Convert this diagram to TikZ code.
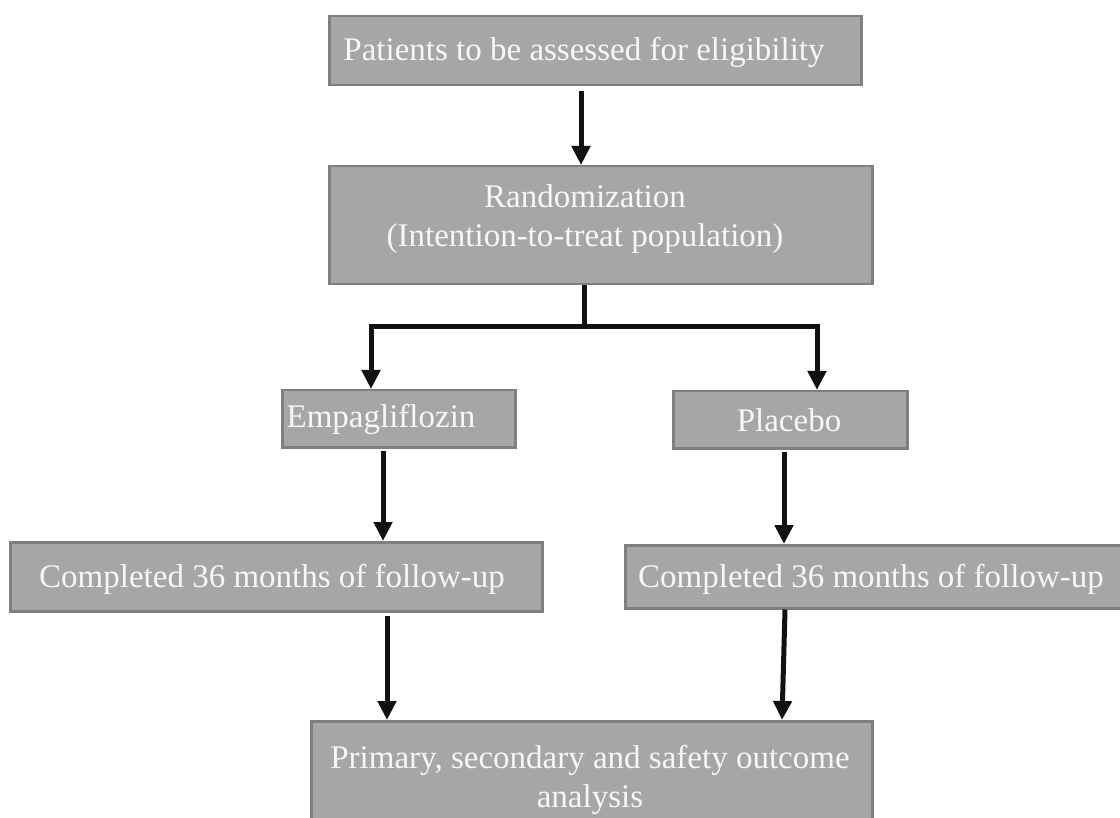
\documentclass[tikz,border=0pt]{standalone}
\usepackage{fontspec}
\setmainfont{Liberation Serif}
\usetikzlibrary{arrows.meta}
\definecolor{boxfill}{HTML}{A6A6A6}
\definecolor{boxline}{HTML}{7F7F7F}
\definecolor{txtcol}{HTML}{F7F7F7}
\definecolor{arrcol}{HTML}{111111}
\tikzset{
  flowbox/.style={draw=boxline, line width=2.5pt, fill=boxfill, rectangle, inner sep=0pt, anchor=north west},
  boxtext/.style={text=txtcol, font=\fontsize{33}{39}\selectfont, align=center, inner sep=0pt},
  conn/.style={draw=arrcol, line width=5pt, line join=miter},
  arr/.style={conn, -{Triangle[length=19pt,width=18pt]}},
}
\begin{document}
\begin{tikzpicture}[x=1pt,y=-1pt]
\useasboundingbox (0,0) rectangle (1120,818);
% boxes
\node[flowbox, minimum width=532pt, minimum height=69pt] (elig) at (328,15) {};
\node[flowbox, minimum width=543pt, minimum height=118pt] (rand) at (328,165) {};
\node[flowbox, minimum width=233pt, minimum height=57pt] (emp) at (281,389) {};
\node[flowbox, minimum width=234pt, minimum height=57pt] (pla) at (672,390) {};
\node[flowbox, minimum width=532pt, minimum height=69pt] (lc) at (9,541) {};
\node[flowbox, minimum width=500pt, minimum height=63pt] (rc) at (624,544) {};
\node[flowbox, minimum width=561pt, minimum height=110pt] (outc) at (310,720) {};
% texts
\node[boxtext] (t1) at (584,52) {Patients to be assessed for eligibility};
\node[boxtext] (t2) at (585,219) {Randomization\\(Intention-to-treat population)};
\node[boxtext] (t3) at (381,419) {Empagliflozin};
\node[boxtext] (t4) at (789,420) {Placebo};
\node[boxtext] (t5) at (272,579) {Completed 36 months of follow-up};
\node[boxtext] (t6) at (871,579) {Completed 36 months of follow-up};
\node[boxtext] (t7) at (590,780) {Primary, secondary and safety outcome\\analysis};
% helper coordinates
\coordinate (x1) at (581,0);
\coordinate (xs) at (584,0);
\coordinate (hy) at (0,327);
\coordinate (xl) at (371,0);
\coordinate (xr) at (817,0);
\coordinate (xe) at (383,0);
\coordinate (xp) at (784,0);
\coordinate (xlc) at (387,0);
\coordinate (xrc1) at (785,0);
\coordinate (xrc2) at (782,0);
% connectors
\draw[arr, shorten <=5pt] (elig.south -| x1) -- (rand.north -| x1);
\draw[conn] (rand.south -| xs) -- (xs |- hy);
\draw[arr] (xs |- hy) -| (emp.north -| xl);
\draw[arr] (xs |- hy) -| (pla.north -| xr);
\draw[arr, shorten <=2pt] (emp.south -| xe) -- (lc.north -| xe);
\draw[arr, shorten <=2pt] (pla.south -| xp) -- (rc.north -| xp);
\draw[arr, shorten <=3pt] (lc.south -| xlc) -- (outc.north -| xlc);
\draw[arr] (rc.south -| xrc1) -- (outc.north -| xrc2);
\end{tikzpicture}
\end{document}
